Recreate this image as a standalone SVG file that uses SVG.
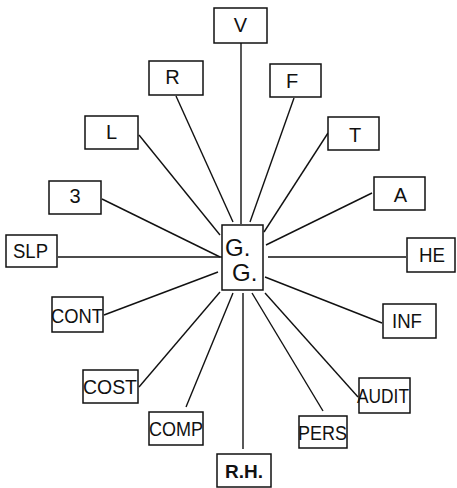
<svg xmlns="http://www.w3.org/2000/svg" width="457" height="488" viewBox="0 0 457 488">
  <style>
    .box { fill: #fff; stroke: #111; stroke-width: 1.5; }
    .lbl { font-family: "Liberation Sans", Arial, sans-serif; font-size: 20px; fill: #111; text-anchor: middle; }
    .lft { text-anchor: start; }
    .bold { font-weight: bold; font-size: 18px; }
    .big { font-family: "Liberation Sans", Arial, sans-serif; font-size: 24px; fill: #111; }
    .links line { stroke: #111; stroke-width: 1.4; }
  </style>
  <rect width="457" height="488" fill="#fff"/>

  <!-- spokes radiating from the central G.G. box -->
  <g id="connectors" class="links">
    <line x1="241" y1="43" x2="241" y2="224"/>
    <line x1="176" y1="96" x2="233" y2="222"/>
    <line x1="294" y1="98" x2="250" y2="222"/>
    <line x1="328" y1="133" x2="264" y2="232"/>
    <line x1="372" y1="193" x2="266" y2="245"/>
    <line x1="268" y1="257" x2="406" y2="257"/>
    <line x1="265" y1="277" x2="382" y2="323"/>
    <line x1="265" y1="293" x2="358" y2="397"/>
    <line x1="252" y1="293" x2="323" y2="411"/>
    <line x1="243" y1="293" x2="243" y2="449"/>
    <line x1="233" y1="293" x2="186" y2="407"/>
    <line x1="220" y1="292" x2="139" y2="387"/>
    <line x1="218" y1="272" x2="104" y2="315"/>
    <line x1="58" y1="257" x2="222" y2="257"/>
    <line x1="102" y1="199" x2="220" y2="257"/>
    <line x1="139" y1="135" x2="220" y2="235"/>
  </g>

  <g id="node-gg">
    <rect class="box" x="222" y="225" width="41" height="65"/>
    <text class="big" x="225" y="256">G.</text>
    <text class="big" x="232" y="281">G.</text>
  </g>
  <g id="node-v">
    <rect class="box" x="214" y="8" width="53" height="35"/>
    <text class="lbl" x="240.5" y="32">V</text>
  </g>
  <g id="node-r">
    <rect class="box" x="149" y="61" width="54" height="34"/>
    <text class="lbl" x="172.5" y="84">R</text>
  </g>
  <g id="node-f">
    <rect class="box" x="270" y="64" width="51" height="33"/>
    <text class="lbl" x="292" y="88">F</text>
  </g>
  <g id="node-l">
    <rect class="box" x="85" y="116" width="53" height="33"/>
    <text class="lbl" x="111.5" y="139">L</text>
  </g>
  <g id="node-3">
    <rect class="box" x="49" y="181" width="52" height="33"/>
    <text class="lbl" x="75" y="203">3</text>
  </g>
  <g id="node-slp">
    <rect class="box" x="6" y="235" width="51" height="32"/>
    <text class="lbl lft" x="13" y="258" textLength="35" lengthAdjust="spacingAndGlyphs">SLP</text>
  </g>
  <g id="node-cont">
    <rect class="box" x="52" y="297" width="51" height="35"/>
    <text class="lbl lft" x="51" y="323" textLength="52" lengthAdjust="spacingAndGlyphs">CONT</text>
  </g>
  <g id="node-cost">
    <rect class="box" x="83" y="370" width="55" height="33"/>
    <text class="lbl lft" x="83" y="394" textLength="54" lengthAdjust="spacingAndGlyphs">COST</text>
  </g>
  <g id="node-comp">
    <rect class="box" x="149" y="412" width="54" height="33"/>
    <text class="lbl lft" x="149" y="436" textLength="54" lengthAdjust="spacingAndGlyphs">COMP</text>
  </g>
  <g id="node-rh">
    <rect class="box" x="217" y="454" width="54" height="33"/>
    <text class="lbl lft bold" x="225" y="478" textLength="38" lengthAdjust="spacingAndGlyphs">R.H.</text>
  </g>
  <g id="node-pers">
    <rect class="box" x="299" y="416" width="48" height="32"/>
    <text class="lbl lft" x="298" y="440" textLength="49" lengthAdjust="spacingAndGlyphs">PERS</text>
  </g>
  <g id="node-audit">
    <rect class="box" x="359" y="378" width="51" height="35"/>
    <text class="lbl lft" x="357" y="403" textLength="52" lengthAdjust="spacingAndGlyphs">AUDIT</text>
  </g>
  <g id="node-inf">
    <rect class="box" x="383" y="304" width="53" height="34"/>
    <text class="lbl lft" x="392" y="328" textLength="30" lengthAdjust="spacingAndGlyphs">INF</text>
  </g>
  <g id="node-he">
    <rect class="box" x="407" y="238" width="48" height="34"/>
    <text class="lbl lft" x="419" y="262" textLength="26" lengthAdjust="spacingAndGlyphs">HE</text>
  </g>
  <g id="node-a">
    <rect class="box" x="374" y="177" width="51" height="33"/>
    <text class="lbl" x="400.5" y="202">A</text>
  </g>
  <g id="node-t">
    <rect class="box" x="328" y="117" width="51" height="33"/>
    <text class="lbl" x="355" y="142">T</text>
  </g>
</svg>
